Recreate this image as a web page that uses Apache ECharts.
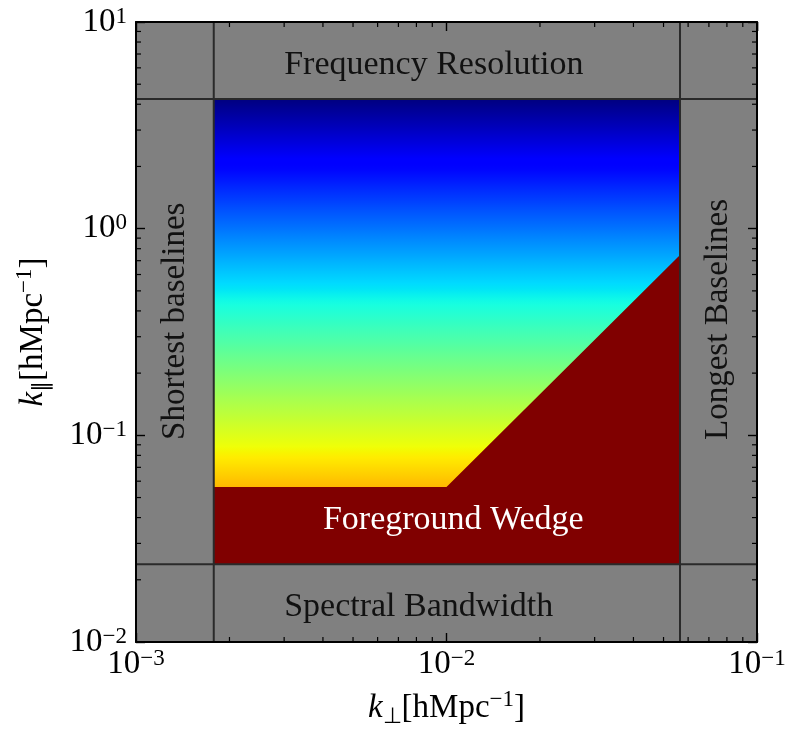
<!DOCTYPE html>
<html>
<head>
<meta charset="utf-8">
<script src="https://cdn.jsdelivr.net/npm/echarts@6/dist/echarts.min.js"></script>
<style>
  html, body { margin: 0; padding: 0; background: #fff; }
  #chart { width: 788px; height: 729px; }
</style>
</head>
<body>
<div id="chart"></div>
<script>
// Axis extents, in h/Mpc
const kPerpRange = [1e-3, 1e-1];
const kParRange = [1e-2, 1e1];

// Instrument limits: shortest / longest baselines, and bandwidth / frequency resolution
const kPerpLimits = [1.78e-3, 0.0565];
const kParLimits = [0.0238, 4.24];

// Foreground wedge boundary (k_perp, k_par)
const wedgeKPerp = [1.78e-3, 1e-2, 0.0565];
const wedgeKPar = [0.0562, 0.0562, 0.745];

// Minor tick multipliers within each decade
const minorMult = [2, 3, 4, 5, 6, 7, 8, 9];

// Region annotations: anchor in data coordinates, rotation in degrees
const annotations = [
  { text: 'Frequency Resolution', kPerp: 3e-3, kPar: 6.2, rot: 0, size: 34, color: '#111' },
  { text: 'Spectral Bandwidth', kPerp: 3e-3, kPar: 0.0148, rot: 0, size: 34, color: '#111' },
  { text: 'Foreground Wedge', kPerp: 4e-3, kPar: 0.039, rot: 0, size: 34, color: '#fff' },
  { text: 'Shortest baselines', kPerp: 1.335e-3, kPar: 0.095, rot: 90, size: 33, color: '#111' },
  { text: 'Longest Baselines', kPerp: 0.0748, kPar: 0.095, rot: 90, size: 33, color: '#111' }
];

const FONT = '"Liberation Serif", "Times New Roman", serif';
const GREY = '#808080';
const WEDGE = '#800000';

// matplotlib "jet" colormap, piecewise linear
const jetR = [[0, 0], [0.35, 0], [0.66, 1], [0.89, 1], [1, 0.5]];
const jetG = [[0, 0], [0.125, 0], [0.375, 1], [0.64, 1], [0.91, 0], [1, 0]];
const jetB = [[0, 0.5], [0.11, 1], [0.34, 1], [0.65, 0], [1, 0]];
function interp(tbl, t) {
  for (let i = 1; i < tbl.length; i++) {
    if (t <= tbl[i][0]) {
      const [t0, v0] = tbl[i - 1], [t1, v1] = tbl[i];
      return v0 + (v1 - v0) * (t - t0) / (t1 - t0);
    }
  }
  return tbl[tbl.length - 1][1];
}
function jet(t) {
  const c = [jetR, jetG, jetB].map(tb => Math.round(255 * interp(tb, t)));
  return 'rgb(' + c.join(',') + ')';
}
const jetStops = [];
for (let i = 0; i <= 100; i++) jetStops.push({ offset: i / 100, color: jet(i / 100) });

// Decade tick label as 10^n
function powLabel(v) {
  const e = Math.round(Math.log10(v));
  return '{b|10}{s|' + (e < 0 ? '\u2212' + (-e) : String(e)) + '}';
}
const tickRich = {
  b: { fontFamily: FONT, fontSize: 33, color: '#000', lineHeight: 34 },
  s: { fontFamily: FONT, fontSize: 23, color: '#000', verticalAlign: 'top', lineHeight: 30 }
};

function decadeMinors(range) {
  const out = [];
  const lo = Math.round(Math.log10(range[0])), hi = Math.round(Math.log10(range[1]));
  for (let e = lo; e < hi; e++) minorMult.forEach(m => out.push(m * Math.pow(10, e)));
  return out;
}
const minorX = decadeMinors(kPerpRange);
const minorY = decadeMinors(kParRange);

// Grey bands framing the accessible region
const bands = [
  [kPerpRange[0], kParLimits[1], kPerpRange[1], kParRange[1]],
  [kPerpRange[0], kParRange[0], kPerpRange[1], kParLimits[0]],
  [kPerpRange[0], kParRange[0], kPerpLimits[0], kParRange[1]],
  [kPerpLimits[1], kParRange[0], kPerpRange[1], kParRange[1]]
];
// Boundary lines: [x0, y0, x1, y1]
const limitLines = [
  [kPerpLimits[0], kParRange[0], kPerpLimits[0], kParRange[1]],
  [kPerpLimits[1], kParRange[0], kPerpLimits[1], kParRange[1]],
  [kPerpRange[0], kParLimits[0], kPerpRange[1], kParLimits[0]],
  [kPerpRange[0], kParLimits[1], kPerpRange[1], kParLimits[1]]
];

function rectItem(api) {
  const a = api.coord([api.value(0), api.value(3)]);
  const b = api.coord([api.value(2), api.value(1)]);
  return { x: a[0], y: a[1], width: b[0] - a[0], height: b[1] - a[1] };
}

const axisBase = {
  type: 'log',
  logBase: 10,
  splitLine: { show: false },
  axisLine: { show: true, lineStyle: { color: '#000', width: 2 } },
  axisTick: { show: true, inside: true, length: 9, lineStyle: { color: '#000', width: 1.4 } },
  z: 10
};
const nameRich = {
  k: { fontFamily: FONT, fontSize: 33, fontStyle: 'italic', color: '#000', lineHeight: 40 },
  sub: { fontFamily: FONT, fontSize: 22, color: '#000', verticalAlign: 'bottom', lineHeight: 26 },
  t: { fontFamily: FONT, fontSize: 33, color: '#000', lineHeight: 40 },
  sup: { fontFamily: FONT, fontSize: 23, color: '#000', verticalAlign: 'top', lineHeight: 26 }
};

const chart = echarts.init(document.getElementById('chart'), null, { renderer: 'canvas' });
chart.setOption({
  animation: false,
  backgroundColor: '#fff',
  grid: { left: 136, top: 22, right: 31, bottom: 87, containLabel: false, outerBoundsMode: 'none' },
  xAxis: [
    Object.assign({}, axisBase, {
      min: kPerpRange[0], max: kPerpRange[1], position: 'bottom',
      axisLabel: { margin: 5, formatter: powLabel, rich: tickRich },
      name: '{k|k}{sub|\u22a5}{t|[hMpc}{sup|\u22121}{t|]}',
      nameLocation: 'middle', nameGap: 46, nameTextStyle: { rich: nameRich }
    }),
    Object.assign({}, axisBase, {
      min: kPerpRange[0], max: kPerpRange[1], position: 'top',
      axisLabel: { show: false }
    })
  ],
  yAxis: [
    Object.assign({}, axisBase, {
      min: kParRange[0], max: kParRange[1], position: 'left',
      axisLabel: { margin: 9, formatter: powLabel, rich: tickRich },
      name: '{k|k}{sub|\u2225}{t|[hMpc}{sup|\u22121}{t|]}',
      nameLocation: 'middle', nameGap: 83, nameTextStyle: { rich: nameRich }
    }),
    Object.assign({}, axisBase, {
      min: kParRange[0], max: kParRange[1], position: 'right',
      axisLabel: { show: false }
    })
  ],
  series: [
    {
      // Accessible region, coloured by log k_par
      type: 'custom', name: 'accessible', z: 1, silent: true,
      data: [[kPerpLimits[0], kParLimits[0], kPerpLimits[1], kParLimits[1]]],
      renderItem(params, api) {
        const top = api.coord([kPerpRange[0], kParLimits[1]]);
        const bot = api.coord([kPerpRange[0], kParRange[0]]);
        return {
          type: 'rect', shape: rectItem(api),
          style: { fill: new echarts.graphic.LinearGradient(0, top[1], 0, bot[1], jetStops, true) }
        };
      }
    },
    {
      // Foreground wedge
      type: 'custom', name: 'wedge', z: 2, silent: true,
      data: [[wedgeKPerp[0], wedgeKPar[0]]],
      renderItem(params, api) {
        const pts = wedgeKPerp.map((x, i) => api.coord([x, wedgeKPar[i]]));
        pts.push(api.coord([wedgeKPerp[wedgeKPerp.length - 1], kParLimits[0]]));
        pts.push(api.coord([wedgeKPerp[0], kParLimits[0]]));
        return { type: 'polygon', shape: { points: pts }, style: { fill: WEDGE } };
      }
    },
    {
      type: 'custom', name: 'bands', z: 3, silent: true,
      data: bands,
      renderItem(params, api) {
        return { type: 'rect', shape: rectItem(api), style: { fill: GREY } };
      }
    },
    {
      type: 'custom', name: 'limits', z: 4, silent: true,
      data: limitLines,
      renderItem(params, api) {
        const a = api.coord([api.value(0), api.value(1)]);
        const b = api.coord([api.value(2), api.value(3)]);
        return {
          type: 'line', shape: { x1: a[0], y1: a[1], x2: b[0], y2: b[1] },
          style: { stroke: '#2a2a2a', lineWidth: 2 }
        };
      }
    },
    {
      type: 'custom', name: 'labels', z: 5, silent: true,
      data: annotations.map(a => [a.kPerp, a.kPar]),
      renderItem(params, api) {
        const a = annotations[params.dataIndex];
        const p = api.coord([api.value(0), api.value(1)]);
        return {
          type: 'text', x: p[0], y: p[1], rotation: a.rot * Math.PI / 180,
          style: {
            text: a.text, x: 0, y: 0, fill: a.color,
            fontFamily: FONT, fontSize: a.size,
            align: 'left', verticalAlign: 'middle'
          }
        };
      }
    },
    {
      type: 'custom', name: 'minorX', z: 11, silent: true, clip: false,
      data: minorX.map(v => [v, kParRange[0]]),
      renderItem(params, api) {
        const cs = params.coordSys;
        const x = api.coord([api.value(0), api.value(1)])[0];
        const st = { stroke: '#000', lineWidth: 1.2 };
        return {
          type: 'group', children: [
            { type: 'line', shape: { x1: x, y1: cs.y + cs.height, x2: x, y2: cs.y + cs.height - 5 }, style: st },
            { type: 'line', shape: { x1: x, y1: cs.y, x2: x, y2: cs.y + 5 }, style: st }
          ]
        };
      }
    },
    {
      type: 'custom', name: 'minorY', z: 11, silent: true, clip: false,
      data: minorY.map(v => [kPerpRange[0], v]),
      renderItem(params, api) {
        const cs = params.coordSys;
        const y = api.coord([api.value(0), api.value(1)])[1];
        const st = { stroke: '#000', lineWidth: 1.2 };
        return {
          type: 'group', children: [
            { type: 'line', shape: { x1: cs.x, y1: y, x2: cs.x + 5, y2: y }, style: st },
            { type: 'line', shape: { x1: cs.x + cs.width, y1: y, x2: cs.x + cs.width - 5, y2: y }, style: st }
          ]
        };
      }
    }
  ]
});
</script>
</body>
</html>
